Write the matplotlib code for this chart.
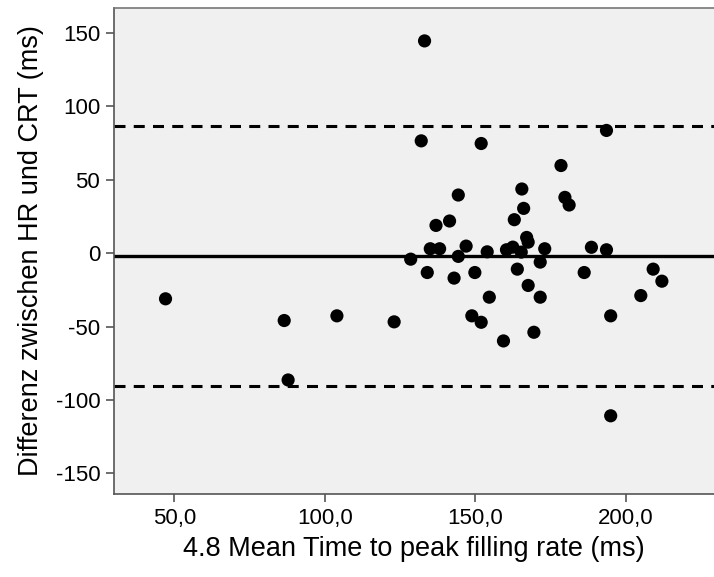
import numpy as np
import matplotlib
matplotlib.use('Agg')
import matplotlib.pyplot as plt
from matplotlib.ticker import FuncFormatter

# mean time to peak filling rate (ms) and HR - CRT difference (ms)
mean_tpfr = [47.1, 86.5, 87.8, 104.0, 123.0, 128.5, 133.1, 132.0, 134.0, 135.0,
             138.1, 136.9, 141.4, 144.3, 144.3, 142.9, 146.9, 149.8, 148.8, 151.9,
             151.9, 153.9, 154.6, 159.3, 160.3, 162.4, 162.9, 163.9, 165.2, 165.4,
             166.0, 167.0, 167.5, 167.5, 169.4, 171.5, 171.5, 173.0, 178.4, 179.7,
             181.1, 186.1, 188.5, 193.5, 193.5, 194.9, 194.9, 204.9, 209.0, 211.9]
diff = [-31.1, -45.9, -86.4, -42.7, -46.8, -4.1, 144.6, 76.5, -13.2, 3.0,
        3.0, 18.9, 21.9, 39.6, -2.2, -17.0, 4.8, -13.2, -42.7, -47.1,
        74.7, 0.9, -30.0, -59.8, 2.3, 4.1, 22.8, -10.9, 0.7, 43.7,
        30.5, 10.7, 7.5, -22.0, -53.9, -6.1, -30.0, 3.0, 59.7, 38.0,
        32.8, -13.2, 4.0, 83.6, 2.3, -42.7, -110.8, -28.9, -10.9, -19.1]

mean_diff = -2.0
upper_loa = 86.3
lower_loa = -90.3

plt.rcParams['font.family'] = ['Liberation Sans', 'DejaVu Sans']
plt.rcParams['axes.unicode_minus'] = False

fig = plt.figure(figsize=(7.14, 5.77), dpi=100)
ax = fig.add_axes([0.1597, 0.1438, 0.8403, 0.8423])
ax.set_facecolor('#f0f0f0')

ax.axhline(mean_diff, color='black', lw=2.4, zorder=2)
ax.axhline(upper_loa, color='black', lw=2.2, ls=(0, (3.6, 2.7)), zorder=2)
ax.axhline(lower_loa, color='black', lw=2.2, ls=(0, (3.6, 2.7)), zorder=2)

ax.scatter(mean_tpfr, diff, s=90, color='black', edgecolors='none', zorder=3)

ax.set_xlim(30.0, 229.2)
ax.set_ylim(-164.1, 167.0)
ax.set_xticks([50, 100, 150, 200])
ax.set_yticks([-150, -100, -50, 0, 50, 100, 150])
ax.xaxis.set_major_formatter(FuncFormatter(lambda v, p: ('%.1f' % v).replace('.', ',')))

for s in ['left', 'bottom']:
    ax.spines[s].set_color('#555555')
    ax.spines[s].set_linewidth(1.2)
ax.spines['top'].set_color('#777777')
ax.spines['top'].set_linewidth(1.2)
ax.spines['right'].set_visible(False)

ax.tick_params(direction='out', length=6, width=1.2, color='#555555',
               labelsize=16, labelcolor='black', pad=4)

ax.set_xlabel('4.8 Mean Time to peak filling rate (ms)', fontsize=19.5, labelpad=5)
ax.set_ylabel('Differenz zwischen HR und CRT (ms)', fontsize=19.5, labelpad=8)

fig.savefig('out.png', dpi=100)
